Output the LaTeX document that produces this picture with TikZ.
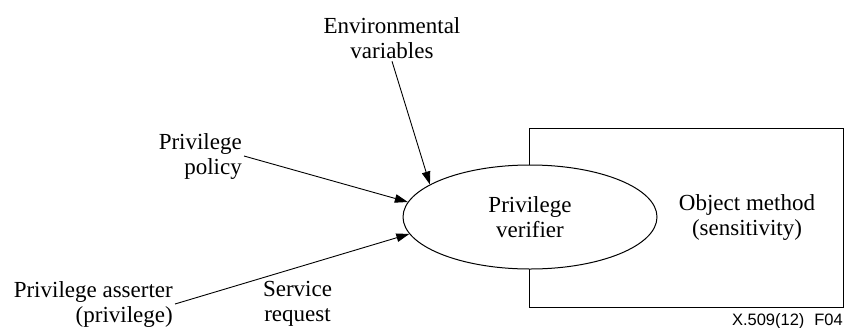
\documentclass[tikz,border=0pt]{standalone}
\usepackage{fontspec}
\setmainfont{Liberation Serif}
\newfontfamily\figsans{Liberation Sans}
\usetikzlibrary{arrows.meta,shapes.geometric}
\begin{document}
\begin{tikzpicture}[x=1pt,y=-1pt,
  lbl/.style={inner sep=2pt,font=\fontsize{23}{25}\selectfont},
  conn/.style={line width=0.9pt,-{Triangle[length=13pt,width=8.5pt]}},
  shapeline/.style={draw,line width=1pt}]
\useasboundingbox (0,0) rectangle (845,327);
% object box
\node[shapeline,rectangle,minimum width=314pt,minimum height=179pt,inner sep=0pt] (box) at (686,217.5) {};
% verifier ellipse
\node[shapeline,ellipse,fill=white,minimum width=254pt,minimum height=104pt,inner sep=0pt,align=center,lbl] (ver) at (530,217) {Privilege\\verifier};
\node[lbl,align=center] (obj) at (747,217) {Object method\\(sensitivity)};
% sources
\node[lbl,align=center] (env) at (392,38.5) {Environmental\\variables};
\node[lbl,align=right,anchor=east] (pol) at (244,156) {Privilege\\policy};
\node[lbl,align=right,anchor=east] (ass) at (175,304) {Privilege asserter\\(privilege)};
\node[lbl,align=center] (svc) at (297.5,304) {Service\\request};
% connectors
\draw[conn] (env.south) -- (ver.162);
\draw[conn] (pol.east) -- (ver.173.5);
\draw[conn] (ass.east) -- (ver.188.5);
% figure id
\node[inner sep=0pt,anchor=base east,font=\figsans\fontsize{16.5}{18}\selectfont] (fid) at (843,325) {X.509(12)\hspace{0.6em}F04};
\end{tikzpicture}
\end{document}
